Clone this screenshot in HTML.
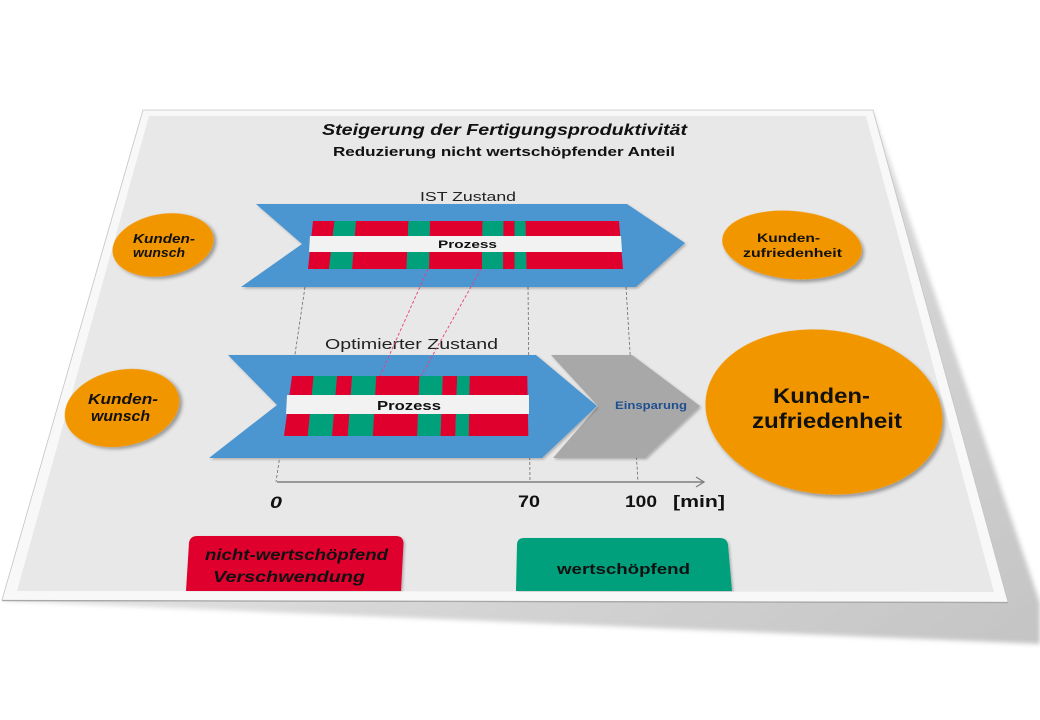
<!DOCTYPE html>
<html>
<head>
<meta charset="utf-8">
<style>
html,body{margin:0;padding:0;background:#fff;}
svg{display:block;}
text{font-family:"Liberation Sans",Arial,sans-serif;fill:#111;}
</style>
</head>
<body>
<svg width="1040" height="720" viewBox="0 0 1040 720" xmlns="http://www.w3.org/2000/svg">
<defs>
  <filter id="sh" x="-20%" y="-20%" width="150%" height="150%">
    <feDropShadow dx="2.5" dy="2.5" stdDeviation="1.8" flood-color="#000" flood-opacity="0.35"/>
  </filter>
  <filter id="sh2" x="-20%" y="-20%" width="150%" height="150%">
    <feDropShadow dx="1.5" dy="1.5" stdDeviation="1.2" flood-color="#000" flood-opacity="0.25"/>
  </filter>
  <filter id="blur" x="-10%" y="-10%" width="120%" height="120%">
    <feGaussianBlur stdDeviation="2.5"/>
  </filter>
  <linearGradient id="shg" x1="0" y1="0.3" x2="1" y2="1">
    <stop offset="0" stop-color="#f2f2f2"/>
    <stop offset="0.5" stop-color="#d8d8d8"/>
    <stop offset="1" stop-color="#c4c4c4"/>
  </linearGradient>
</defs>

<!-- sheet shadow -->
<polygon points="873,112 1040,603 1040,644 3,601" fill="url(#shg)" filter="url(#blur)"/>

<!-- sheet -->
<polygon points="143,110 873,110 1008,602 2,600" fill="#f8f8f8" stroke="#c4c4c4" stroke-width="0.8"/>
<line x1="2" y1="600.5" x2="1008" y2="602.5" stroke="#a8a8a8" stroke-width="1.2"/>
<polygon points="149,116 866,116 994,592 17,591" fill="#e8e8e8"/>

<!-- titles -->
<text x="322" y="135" font-size="16" font-weight="bold" font-style="italic" textLength="365" lengthAdjust="spacingAndGlyphs">Steigerung der Fertigungsproduktivität</text>
<text x="333" y="156" font-size="13" font-weight="bold" textLength="342" lengthAdjust="spacingAndGlyphs">Reduzierung nicht wertschöpfender Anteil</text>

<!-- grey dashed guide lines (behind arrows) -->
<g stroke="#6a6a6a" stroke-width="0.8" stroke-dasharray="3,2" fill="none">
  <line x1="305" y1="287" x2="276" y2="482"/>
  <line x1="528" y1="287" x2="530" y2="482"/>
  <line x1="626" y1="287" x2="638" y2="482"/>
</g>

<!-- IST label -->
<text x="420" y="201" font-size="13" textLength="96" lengthAdjust="spacingAndGlyphs" style="fill:#222">IST Zustand</text>

<!-- IST arrow -->
<polygon points="256,204 627,204 685,243 636,287 241,287 302,244" fill="#4b95d0" filter="url(#sh2)"/>
<g>
  <polygon points="313,221 334.5,221 329,269 308,269" fill="#e0002d"/>
  <polygon points="334.5,221 356,221 352,269 329,269" fill="#00a07b"/>
  <polygon points="356,221 408.5,221 406.5,269 352,269" fill="#e0002d"/>
  <polygon points="408.5,221 430,221 429,269 406.5,269" fill="#00a07b"/>
  <polygon points="430,221 482.5,221 482,269 429,269" fill="#e0002d"/>
  <polygon points="482.5,221 503.5,221 503,269 482,269" fill="#00a07b"/>
  <polygon points="503.5,221 514.5,221 514.5,269 503,269" fill="#e0002d"/>
  <polygon points="514.5,221 525.5,221 526.5,269 514.5,269" fill="#00a07b"/>
  <polygon points="525.5,221 619,221 623,269 526.5,269" fill="#e0002d"/>
  <polygon points="310,236 621,236 622,252 309,252" fill="#f2f2f2"/>
</g>
<text x="438" y="248" font-size="11" font-weight="bold" textLength="59" lengthAdjust="spacingAndGlyphs">Prozess</text>

<!-- Optimierter label -->
<text x="325" y="349" font-size="15" textLength="173" lengthAdjust="spacingAndGlyphs" style="fill:#222">Optimierter Zustand</text>

<!-- grey Einsparung chevron -->
<polygon points="551,355 632,355 700,406 645,458 553,458 598,406" fill="#a8a8a8" filter="url(#sh2)"/>
<text x="615" y="409" font-size="11" font-weight="bold" textLength="72" lengthAdjust="spacingAndGlyphs" style="fill:#1f4f8f">Einsparung</text>

<!-- Optimized arrow -->
<polygon points="228,355 536,355 597,406 542,458 209,458 277,405" fill="#4b95d0" filter="url(#sh2)"/>
<g>
  <polygon points="292,376 313.7,376 307.8,436 284,436" fill="#e0002d"/>
  <polygon points="313.7,376 337,376 332,436 307.8,436" fill="#00a07b"/>
  <polygon points="337,376 352.2,376 347.8,436 332,436" fill="#e0002d"/>
  <polygon points="352.2,376 376.2,376 372.8,436 347.8,436" fill="#00a07b"/>
  <polygon points="376.2,376 419.5,376 417.2,436 372.8,436" fill="#e0002d"/>
  <polygon points="419.5,376 442.8,376 440.5,436 417.2,436" fill="#00a07b"/>
  <polygon points="442.8,376 457.2,376 455.3,436 440.5,436" fill="#e0002d"/>
  <polygon points="457.2,376 469.7,376 468.7,436 455.3,436" fill="#00a07b"/>
  <polygon points="469.7,376 527.3,376 528.3,436 468.7,436" fill="#e0002d"/>
  <polygon points="287,395 529,395 529,414 286,414" fill="#f2f2f2"/>
</g>
<text x="377" y="410" font-size="13" font-weight="bold" textLength="64" lengthAdjust="spacingAndGlyphs">Prozess</text>

<!-- pink dashed connectors (on top) -->
<g stroke="#e8407a" stroke-width="0.9" stroke-dasharray="3,2" fill="none">
  <line x1="428" y1="269" x2="380" y2="376"/>
  <line x1="481" y1="269" x2="421" y2="376"/>
</g>

<!-- axis -->
<line x1="277" y1="482" x2="704" y2="482" stroke="#7f7f7f" stroke-width="1.5"/>
<polyline points="696,477 704,482 696,487" fill="none" stroke="#7f7f7f" stroke-width="1.3"/>
<text x="270" y="508" font-size="17" font-weight="bold" font-style="italic" textLength="12" lengthAdjust="spacingAndGlyphs">0</text>
<text x="518" y="507" font-size="17" font-weight="bold" textLength="22" lengthAdjust="spacingAndGlyphs">70</text>
<text x="625" y="507" font-size="17" font-weight="bold" textLength="32" lengthAdjust="spacingAndGlyphs">100</text>
<text x="673" y="507" font-size="17" font-weight="bold" textLength="52" lengthAdjust="spacingAndGlyphs">[min]</text>

<!-- ellipses -->
<ellipse cx="163" cy="245" rx="51" ry="31" transform="rotate(-10 163 245)" fill="#f29600" filter="url(#sh)"/>
<text x="133" y="243" font-size="13" font-weight="bold" font-style="italic" textLength="62" lengthAdjust="spacingAndGlyphs">Kunden-</text>
<text x="133" y="257" font-size="13" font-weight="bold" font-style="italic" textLength="52" lengthAdjust="spacingAndGlyphs">wunsch</text>

<ellipse cx="792" cy="245" rx="70" ry="34" transform="rotate(5 792 245)" fill="#f29600" filter="url(#sh)"/>
<text x="757" y="242" font-size="12" font-weight="bold" textLength="63" lengthAdjust="spacingAndGlyphs">Kunden-</text>
<text x="743" y="257" font-size="12" font-weight="bold" textLength="99" lengthAdjust="spacingAndGlyphs">zufriedenheit</text>

<ellipse cx="122" cy="408" rx="58" ry="38" transform="rotate(-12 122 408)" fill="#f29600" filter="url(#sh)"/>
<text x="88" y="404" font-size="15" font-weight="bold" font-style="italic" textLength="70" lengthAdjust="spacingAndGlyphs">Kunden-</text>
<text x="91" y="421" font-size="15" font-weight="bold" font-style="italic" textLength="59" lengthAdjust="spacingAndGlyphs">wunsch</text>

<ellipse cx="824" cy="412" rx="119" ry="82" transform="rotate(7 824 412)" fill="#f29600" filter="url(#sh)"/>
<text x="773" y="403" font-size="21" font-weight="bold" textLength="97" lengthAdjust="spacingAndGlyphs">Kunden-</text>
<text x="752" y="428" font-size="21" font-weight="bold" textLength="150" lengthAdjust="spacingAndGlyphs">zufriedenheit</text>

<!-- legend -->
<path d="M197,536 L396,536 Q403,536 403.5,543 L401,591 L186,591 L189,543 Q190,536 197,536 Z" fill="#e0002d" filter="url(#sh2)"/>
<text x="205" y="560" font-size="16" font-weight="bold" font-style="italic" textLength="183" lengthAdjust="spacingAndGlyphs">nicht-wertschöpfend</text>
<text x="213" y="582" font-size="16" font-weight="bold" font-style="italic" textLength="152" lengthAdjust="spacingAndGlyphs">Verschwendung</text>

<path d="M524,538 L720,538 Q727,538 728,545 L732,591 L516,591 L517,545 Q517,538 524,538 Z" fill="#00a07b" filter="url(#sh2)"/>
<text x="557" y="574" font-size="15" font-weight="bold" textLength="133" lengthAdjust="spacingAndGlyphs">wertschöpfend</text>

<!-- restore sheet bottom border over legend boxes -->
<polygon points="17,591 994,592 1008,602 2,600" fill="#f8f8f8"/>
<line x1="2" y1="600.5" x2="1008" y2="602.5" stroke="#a8a8a8" stroke-width="1.2"/>
</svg>
</body>
</html>
